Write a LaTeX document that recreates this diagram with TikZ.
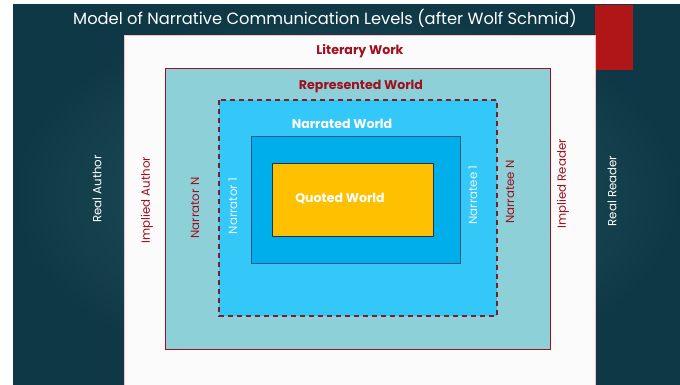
\documentclass[tikz,border=0pt]{standalone}
\usepackage{fontspec}
\setmainfont{Poppins}
\definecolor{slidedark}{HTML}{0F3846}
\definecolor{slidemid}{HTML}{275C63}
\definecolor{barred}{HTML}{B01618}
\definecolor{darkred}{HTML}{A0101E}
\definecolor{lteal}{HTML}{8ED0D8}
\definecolor{skyblue}{HTML}{33C8F8}
\definecolor{midblue}{HTML}{00AEEC}
\definecolor{gold}{HTML}{FFC000}
\definecolor{edgeblue}{HTML}{2E5A80}
\definecolor{dashred}{HTML}{7A1E2C}
\definecolor{paleblue}{HTML}{E6F6FC}
\tikzset{
  lbl/.style={inner sep=0pt, font=\fontsize{11.8}{13}\selectfont},
  rlbl/.style={lbl, rotate=90},
  hdr/.style={inner sep=0pt, font=\bfseries\fontsize{12.6}{14}\selectfont},
}
\begin{document}
\begin{tikzpicture}[x=1pt,y=-1pt]
\useasboundingbox (0,0) rectangle (680,385);
\fill[white] (0,0) rectangle (680,385);
\shade[inner color=slidemid, outer color=slidedark] (13,5) rectangle (680,385);
% red bar
\fill[barred] (595,5) rectangle (633,70);
% white page
\draw[fill=white!97!gray, draw=red!25!white, line width=0.5pt] (124,35) rectangle (595,385);
% literary work level
\draw[fill=lteal, draw=darkred, line width=0.8pt] (165,68) rectangle (550,349);
% represented world
\draw[fill=skyblue, draw=dashred, line width=1.6pt, dash pattern=on 5pt off 4pt] (219,100) rectangle (497,316);
% narrated world
\draw[fill=midblue, draw=edgeblue, line width=0.9pt] (251,136) rectangle (460,263);
% quoted world
\draw[fill=gold, draw=edgeblue!60!black, line width=0.9pt] (272,163) rectangle (433,236);

% texts
\node[inner sep=0pt, text=white, font=\fontsize{16.3}{19}\selectfont] (title) at (325,18) {Model of Narrative Communication Levels (after Wolf Schmid)};
\node[hdr, text=darkred] (lit) at (360,51) {Literary Work};
\node[hdr, text=darkred] (rep) at (361,87) {Represented World};
\node[hdr, text=white] (nar) at (342,124) {Narrated World};
\node[hdr, text=white] (quo) at (340,199) {Quoted World};

\node[rlbl, text=white] (ra) at (97,189) {Real Author};
\node[rlbl, text=darkred] (ia) at (147,200) {Implied Author};
\node[rlbl, text=darkred] (nn) at (195,208) {Narrator N};
\node[rlbl, text=paleblue] (n1) at (233,206) {Narrator 1};
\node[rlbl, text=paleblue] (ne1) at (473,195) {Narratee 1};
\node[rlbl, text=darkred] (nen) at (510,192) {Narratee N};
\node[rlbl, text=darkred] (ir) at (563,184) {Implied Reader};
\node[rlbl, text=white] (rr) at (612,191) {Real Reader};
\end{tikzpicture}
\end{document}
